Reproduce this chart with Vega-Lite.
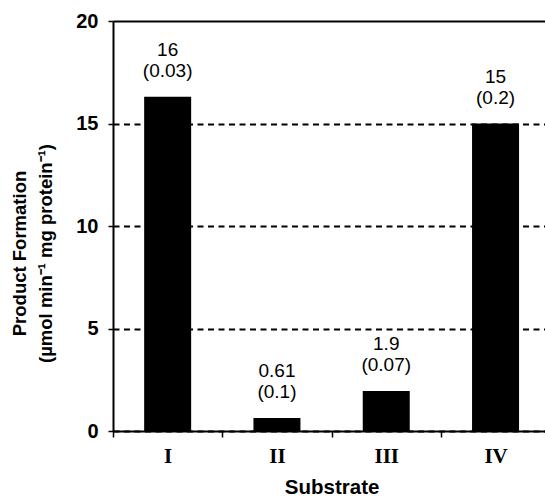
{
  "$schema": "https://vega.github.io/schema/vega-lite/v6.json",
  "autosize": "none",
  "padding": {"left": 113, "top": 21, "right": 0, "bottom": 67},
  "width": 432,
  "height": 410,
  "background": "white",
  "config": {"view": {"stroke": null}},
  "data": {"values": [
    {"substrate": "I", "rate": 16.3, "label": "16\n(0.03)"},
    {"substrate": "II", "rate": 0.63, "label": "0.61\n(0.1)"},
    {"substrate": "III", "rate": 1.95, "label": "1.9\n(0.07)"},
    {"substrate": "IV", "rate": 15.0, "label": "15\n(0.2)"}
  ]},
  "encoding": {
    "x": {
      "field": "substrate", "type": "nominal", "sort": ["I", "II", "III", "IV"],
      "scale": {"type": "band", "range": [0, 437.2], "paddingInner": 0, "paddingOuter": 0},
      "axis": {
        "title": "Substrate", "titleFont": "Liberation Sans", "titleFontSize": 20.5, "titleFontWeight": "bold",
        "titleColor": "black", "titlePadding": 11,
        "labelFont": "Liberation Serif", "labelFontSize": 21, "labelFontWeight": "bold", "labelColor": "black",
        "labelAngle": 0, "labelPadding": 8,
        "tickBand": "extent", "tickSize": 6, "tickColor": "black", "tickWidth": 1.5,
        "domainColor": "black", "domainWidth": 2, "grid": false
      }
    },
    "y": {
      "field": "rate", "type": "quantitative",
      "scale": {"domain": [0, 20], "nice": false},
      "axis": {
        "values": [0, 5, 10, 15, 20],
        "title": ["Product Formation", "(µmol min⁻¹ mg protein⁻¹)"],
        "titleFont": "Liberation Sans", "titleFontSize": 18.5, "titleFontWeight": "bold", "titleColor": "black",
        "titleLineHeight": 26, "titlePadding": 20, "titleY": 232,
        "labelFont": "Liberation Sans", "labelFontSize": 20, "labelFontWeight": "bold", "labelColor": "black",
        "labelPadding": 10,
        "tickSize": 5, "tickColor": "black", "tickWidth": 1.5,
        "domainColor": "black", "domainWidth": 2,
        "grid": true, "gridColor": "black", "gridWidth": 2, "gridOpacity": 1,
        "gridDash": {"condition": {"test": "datum.value == 20", "value": []}, "value": [6, 4.5]}
      }
    }
  },
  "layer": [
    {"mark": {"type": "bar", "color": "black", "width": {"band": 0.43}}},
    {
      "mark": {"type": "text", "lineBreak": "\n", "baseline": "alphabetic", "dy": -41, "fontSize": 19,
               "font": "Liberation Sans", "color": "black", "lineHeight": 21},
      "encoding": {"text": {"field": "label"}}
    }
  ]
}
